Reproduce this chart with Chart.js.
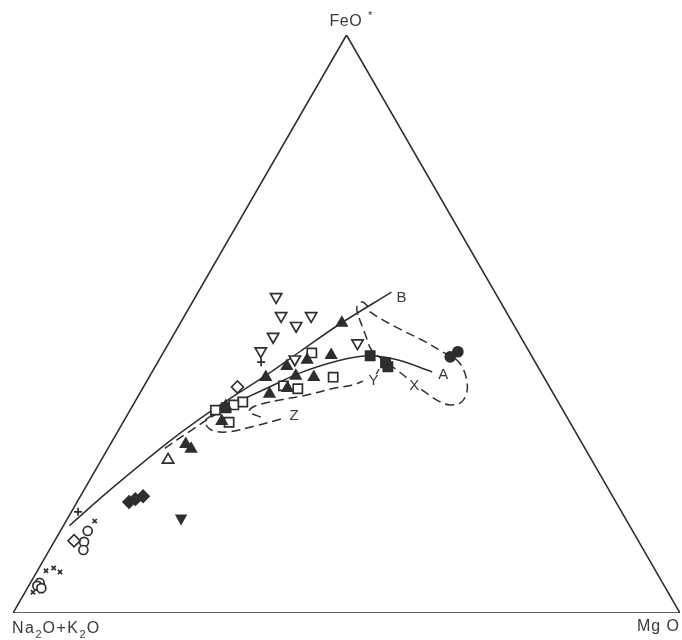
<!DOCTYPE html>
<html>
<head>
<meta charset="utf-8">
<script src="https://cdn.jsdelivr.net/npm/chart.js@4.4.1/dist/chart.umd.min.js"></script>
<style>
  html, body { margin: 0; padding: 0; background: #ffffff; }
  #c { display: block; }
</style>
</head>
<body>
<canvas id="c" width="682" height="640"></canvas>
<script>
// AFM diagram: every composition is [Na2O+K2O, FeO*, MgO] in wt%.
const corners = [[100, 0, 0], [0, 100, 0], [0, 0, 100], [100, 0, 0]];

// Sample groups
const openInvTriangles = [[33.2, 54.7, 12.1], [34.1, 51.4, 14.5], [32.7, 49.7, 17.6], [29.6, 51.4, 19.0],
  [37.1, 47.8, 15.1], [40.2, 45.3, 14.5], [35.8, 43.9, 20.3], [25.0, 46.7, 28.3]];
const stemMarks = [[41.1, 43.4, 15.5]];
const filledTriangles = [[25.6, 50.2, 24.2], [30.0, 44.6, 25.4], [34.0, 43.8, 22.2], [37.6, 42.7, 19.7],
  [41.7, 40.8, 17.5], [37.1, 41.0, 21.9], [34.5, 40.8, 24.7], [42.6, 37.9, 19.5], [39.4, 38.9, 21.7],
  [50.2, 35.8, 14.0], [52.1, 33.2, 14.7], [59.5, 29.2, 11.3], [59.1, 28.4, 12.5]];
const openTriangles = [[63.5, 26.5, 10.0]];
const filledInvTriangles = [[66.6, 16.4, 17.0]];
const filledDiamonds = [[73.0, 19.2, 7.8], [71.8, 19.7, 8.5], [70.4, 20.2, 9.4]];
const openDiamonds = [[84.6, 12.5, 2.9], [46.8, 39.1, 14.1]];
const openSquares = [[32.7, 45.0, 22.3], [31.6, 40.8, 27.6], [37.9, 38.8, 23.3], [39.8, 39.3, 20.9],
  [47.3, 36.5, 16.2], [48.9, 36.0, 15.1], [52.1, 35.1, 12.8], [51.1, 33.0, 15.9]];
const filledSquares = [[24.2, 44.5, 31.3], [22.5, 43.3, 34.2], [22.5, 42.6, 34.9], [50.3, 35.5, 14.2]];
const filledCircles = [[12.3, 44.3, 43.4], [10.7, 45.2, 44.1]];
const openCircles = [[81.7, 14.2, 4.1], [83.2, 12.3, 4.5], [84.0, 10.9, 5.1],
  [93.4, 5.2, 1.4], [94.0, 4.7, 1.3], [93.6, 4.3, 2.1]];
const plusMarks = [[81.5, 17.5, 1.0]];
const crossMarks = [[79.8, 15.9, 4.3], [91.4, 7.3, 1.3], [90.0, 7.8, 2.2], [89.4, 7.1, 3.5],
  [95.2, 3.6, 1.2], [93.9, 3.8, 2.3]];

// Trends (solid) and fields (dashed)
const trendB = [[84.0, 15.1, 0.9], [74.8, 21.3, 3.9], [62.2, 29.4, 8.4], [55.2, 33.6, 11.2],
  [46.9, 38.2, 14.9], [41.2, 41.3, 17.5], [34.4, 45.2, 20.4], [26.0, 50.0, 24.0], [15.5, 55.5, 29.0]];
const trendA = [[47.0, 37.0, 16.0], [41.3, 39.4, 19.3], [36.3, 41.5, 22.2], [29.6, 43.6, 26.8],
  [24.6, 44.5, 30.9], [20.5, 43.8, 35.7], [16.3, 41.7, 42.0]];
const fieldYUpper = [[63.0, 28.5, 8.5], [57.3, 31.7, 11.0], [52.0, 34.6, 13.4], [47.0, 37.0, 16.0]];
const fieldYLower = [[45.9, 33.9, 20.2], [47.2, 34.8, 18.0], [45.8, 35.8, 18.4], [41.3, 36.9, 21.8],
  [37.1, 37.7, 25.2], [32.8, 38.8, 28.4], [29.5, 39.4, 31.1], [27.5, 40.1, 32.4]];
const yTick = [[26.2, 40.3, 33.5], [25.0, 41.2, 33.8], [24.0, 42.2, 33.8]];
const fieldZ = [[52.9, 34.3, 12.8], [54.6, 33.2, 12.2], [54.5, 31.7, 13.8], [52.3, 31.3, 16.4],
  [47.4, 32.4, 20.2], [42.5, 33.7, 23.8]];
const fieldX = [[22.5, 51.6, 25.9], [22.0, 52.9, 25.1], [20.8, 53.8, 25.4], [20.3, 53.1, 26.6],
  [20.4, 52.1, 27.5], [17.9, 49.5, 32.6], [14.7, 46.9, 38.4], [12.5, 44.6, 42.9], [11.5, 43.6, 44.9],
  [11.5, 41.5, 47.0], [12.6, 38.6, 48.8], [14.5, 36.5, 49.0], [16.5, 36.0, 47.5], [17.9, 36.7, 45.4],
  [19.1, 38.2, 42.7], [20.4, 40.3, 39.3], [21.4, 42.0, 36.6], [22.6, 43.8, 33.6], [23.5, 45.5, 31.0],
  [23.1, 48.1, 28.8], [22.5, 51.6, 25.9]];

// Letters naming the trends and fields
const fieldLabels = ['A', 'B', 'X', 'Y', 'Z'];
const fieldLabelAt = [[14.9, 41.2, 43.9], [14.5, 54.5, 31.0], [20.2, 39.3, 40.5], [25.9, 40.1, 34.0], [40.8, 34.1, 25.1]];

const INK = '#2e2e2e';
const TEXT = '#3a3a3a';
const H = Math.sqrt(3) / 2;
const FONT = '"Liberation Sans", Arial, sans-serif';

function toXY(c) {
  const s = c[0] + c[1] + c[2];
  const f = c[1] / s, m = c[2] / s;
  return { x: m + f / 2, y: f * H };
}

function lineSet(rows, dashed, width) {
  return {
    data: rows.map(toXY), showLine: true, pointRadius: 0, borderColor: INK,
    borderWidth: width || 1.5, borderDash: dashed ? [9, 5] : [], fill: false,
    tension: 0.35, order: 10
  };
}

function markSet(rows, style, radius, filled, rotation, width) {
  return {
    data: rows.map(toXY), showLine: false, pointStyle: style, pointRadius: radius,
    pointRotation: rotation || 0, pointBackgroundColor: filled ? INK : '#ffffff',
    pointBorderColor: INK, pointBorderWidth: width || 1.7, order: 1
  };
}

function spaced(ctx, px) {
  if ('letterSpacing' in ctx) ctx.letterSpacing = px + 'px';
}

const labelPlugin = {
  id: 'afmLabels',
  afterDatasetsDraw(chart) {
    const { ctx } = chart;
    const sx = chart.scales.x, sy = chart.scales.y;
    const px = c => { const p = toXY(c); return [sx.getPixelForValue(p.x), sy.getPixelForValue(p.y)]; };
    ctx.save();
    ctx.fillStyle = TEXT;
    ctx.textAlign = 'center';
    ctx.textBaseline = 'middle';
    ctx.font = '15px ' + FONT;
    fieldLabels.forEach((t, i) => {
      const [x, y] = px(fieldLabelAt[i]);
      const w = ctx.measureText(t).width;
      ctx.fillStyle = '#ffffff';
      ctx.fillRect(x - w / 2 - 1, y - 7, w + 2, 14);
      ctx.fillStyle = TEXT;
      ctx.fillText(t, x, y);
    });

    // apex label
    const [fx, fy] = px(corners[1]);
    ctx.textBaseline = 'alphabetic';
    ctx.textAlign = 'left';
    ctx.font = '16px ' + FONT;
    spaced(ctx, 0.5);
    const feW = ctx.measureText('FeO').width;
    ctx.fillText('FeO', fx - 17, fy - 9);
    ctx.font = '11px ' + FONT;
    ctx.fillText('*', fx - 17 + feW + 6, fy - 16);

    // base labels
    const [ax, ay] = px(corners[0]);
    const parts = [['Na', 0], ['2', 1], ['O+K', 0], ['2', 1], ['O', 0]];
    let cx = ax - 1;
    parts.forEach(([t, sub]) => {
      ctx.font = (sub ? '11px ' : '16px ') + FONT;
      spaced(ctx, sub ? 0 : 1.5);
      ctx.fillText(t, cx, ay + 20 + (sub ? 5 : 0));
      cx += ctx.measureText(t).width + (sub ? 1 : 0);
    });

    const [mx, my] = px(corners[2]);
    ctx.font = '16px ' + FONT;
    spaced(ctx, 1);
    ctx.textAlign = 'right';
    ctx.fillText('Mg O', mx, my + 18);
    ctx.restore();
  }
};

new Chart(document.getElementById('c'), {
  type: 'scatter',
  data: {
    datasets: [
      Object.assign(lineSet(corners, false, 1.6), { tension: 0 }),
      lineSet(trendB, false),
      lineSet(trendA, false),
      lineSet(fieldYUpper, true),
      lineSet(fieldYLower, true),
      Object.assign(lineSet(yTick, false, 1.2), { tension: 0 }),
      lineSet(fieldZ, true),
      lineSet(fieldX, true),
      markSet(openInvTriangles, 'triangle', 6.5, false, 180),
      markSet(stemMarks, 'cross', 4, false),
      markSet(filledTriangles, 'triangle', 6, true),
      markSet(openTriangles, 'triangle', 6.5, false),
      markSet(filledInvTriangles, 'triangle', 5.5, true, 180),
      markSet(filledDiamonds, 'rectRot', 6, true),
      markSet(openDiamonds, 'rectRot', 6, false),
      markSet(openSquares, 'rect', 6.5, false),
      markSet(filledSquares, 'rect', 6.5, true),
      markSet(filledCircles, 'circle', 5, true),
      markSet(openCircles, 'circle', 4.5, false),
      markSet(plusMarks, 'cross', 4, false),
      markSet(crossMarks, 'crossRot', 3, false)
    ]
  },
  options: {
    responsive: false,
    animation: false,
    devicePixelRatio: 1,
    layout: { autoPadding: false, padding: { left: 13, right: 2, top: 35, bottom: 27 } },
    scales: {
      x: { type: 'linear', min: 0, max: 1, display: false },
      y: { type: 'linear', min: 0, max: H, display: false }
    },
    plugins: { legend: { display: false }, tooltip: { enabled: false } }
  },
  plugins: [labelPlugin]
});
</script>
</body>
</html>
